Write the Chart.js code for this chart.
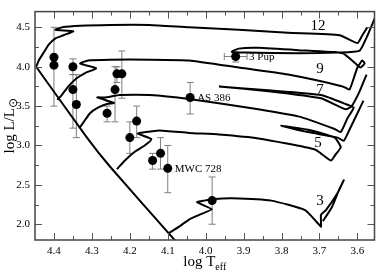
<!DOCTYPE html>
<html>
<head>
<meta charset="utf-8">
<script src="https://cdn.jsdelivr.net/npm/chart.js@4.4.0/dist/chart.umd.min.js"></script>
<style>
  html, body { margin: 0; padding: 0; background: #fff; }
  #wrap { width: 379px; height: 273px; }
</style>
</head>
<body>
<div id="wrap"><canvas id="hr"></canvas></div>
<script>
// evolutionary tracks as [log Teff, log L/Lsun]
var zams = [[4.447,4.00],[4.313,3.10],[4.252,2.73],[4.080,1.79]];
var track12 = [[4.447,4.00],[4.440,4.08],[4.427,4.18],[4.414,4.28],[4.396,4.36],[4.375,4.40],[4.349,4.45],
  [4.396,4.47],[4.378,4.50],[4.331,4.52],[4.252,4.53],[4.148,4.53],[4.044,4.50],[3.913,4.47],[3.783,4.43],
  [3.647,4.40],[3.600,4.30],[3.587,4.40],[3.574,4.50]];
var track9 = [[4.391,3.58],[4.378,3.65],[4.362,3.75],[4.341,3.85],[4.318,3.92],[4.289,3.98],[4.331,4.04],
  [4.310,4.08],[4.252,4.09],[4.148,4.09],[4.044,4.08],[3.913,3.99],[3.783,3.90],[3.639,3.75],[3.621,3.71],
  [3.610,3.85],[3.600,3.99],[3.587,4.08],[3.581,4.04],[3.592,3.99],[3.605,4.04],[3.639,4.17],[3.756,4.21],
  [3.861,4.24],[3.913,4.23],[3.931,4.19],[3.895,4.18],[3.756,4.17],[3.652,4.18],[3.595,4.20],[3.574,4.39],
  [3.553,4.63]];
var track7 = [[4.333,3.22],[4.320,3.31],[4.305,3.41],[4.284,3.48],[4.258,3.53],[4.242,3.54],[4.286,3.61],
  [4.266,3.61],[4.226,3.64],[4.148,3.64],[4.044,3.59],[3.887,3.48],[3.756,3.37],[3.660,3.21],[3.644,3.17],
  [3.626,3.35],[3.610,3.48],[3.628,3.52],[3.696,3.64],[3.835,3.70],[3.965,3.75],[3.835,3.69],[3.696,3.60],
  [3.631,3.46],[3.615,3.50],[3.594,3.69],[3.576,3.90]];
var track5 = [[4.234,2.70],[4.213,2.81],[4.187,2.92],[4.161,3.00],[4.143,3.08],[4.179,3.15],[4.158,3.17],
  [4.122,3.19],[4.044,3.16],[3.965,3.14],[3.861,3.09],[3.712,2.95],[3.670,2.81],[3.657,2.89],[3.644,2.98],
  [3.660,3.10],[3.730,3.20],[3.801,3.25],[3.730,3.17],[3.652,3.10],[3.636,3.06],[3.621,3.20],[3.600,3.41],
  [3.584,3.57]];
var track3 = [[4.096,1.89],[4.070,1.97],[4.044,2.06],[4.017,2.12],[3.984,2.19],[4.023,2.28],[4.004,2.30],
  [3.978,2.32],[3.931,2.33],[3.827,2.30],[3.738,2.18],[3.704,2.01],[3.696,1.97],[3.696,2.12],[3.683,2.18],
  [3.652,2.40],[3.636,2.56],[3.649,2.43],[3.667,2.22],[3.691,2.04]];

// track mass labels
var trackNames = ['12', '9', '7', '5', '3'];
var trackLabelT = [3.704, 3.699, 3.699, 3.704, 3.699];
var trackLabelL = [4.52, 3.97, 3.71, 3.03, 2.30];

// observed stars
var starT  = [4.400, 4.400, 4.350, 4.350, 4.341, 4.260, 4.239, 4.234, 4.221, 4.182, 4.200, 4.140, 4.119, 4.100, 4.041, 3.983, 3.921];
var starL  = [4.12, 4.02, 4.00, 3.71, 3.52, 3.41, 3.71, 3.91, 3.91, 3.31, 3.10, 2.81, 2.90, 2.71, 3.61, 2.30, 4.13];
var starLo = [4.12, 3.50, 3.90, 3.22, 3.10, 3.30, 3.30, 3.80, 3.60, 3.10, 2.90, 2.70, 2.70, 2.40, 3.40, 2.00, 4.06];
var starHi = [4.12, 4.50, 4.10, 3.90, 3.90, 3.50, 4.00, 4.00, 4.20, 3.50, 3.30, 2.90, 3.10, 3.00, 3.80, 2.60, 4.19];
var starTerr = [0, 0, 0, 0, 0, 0, 0, 0, 0, 0, 0, 0, 0, 0, 0, 0, 0.03];
var starNames = ['', '', '', '', '', '', '', '', '', '', '', '', '', 'MWC 728', 'AS 386', '', '3 Pup'];

var xTicks = [4.4, 4.3, 4.2, 4.1, 4.0, 3.9, 3.8, 3.7, 3.6];
var xMinor = [4.35, 4.25, 4.15, 4.05, 3.95, 3.85, 3.75, 3.65];
var yTicks = [2.0, 2.5, 3.0, 3.5, 4.0, 4.5];
var yMinor = [2.25, 2.75, 3.25, 3.75, 4.25];

var SERIF = '"Liberation Serif", "DejaVu Serif", serif';

function pts(arr) {
  return arr.map(function (p) { return { x: p[0], y: p[1] }; });
}

function lineSet(arr) {
  return {
    data: pts(arr),
    showLine: true,
    borderColor: '#000',
    borderWidth: 2,
    pointRadius: 0,
    tension: 0.15,
    fill: false
  };
}

var starPoints = starT.map(function (t, i) { return { x: t, y: starL[i] }; });

// gray error bars under everything
var errorBars = {
  id: 'errorBars',
  beforeDatasetsDraw: function (chart) {
    var c = chart.ctx, sx = chart.scales.x, sy = chart.scales.y;
    c.save();
    c.strokeStyle = '#7f7f7f';
    c.lineWidth = 1;
    for (var i = 0; i < starT.length; i++) {
      var px = sx.getPixelForValue(starT[i]);
      var py = sy.getPixelForValue(starL[i]);
      c.beginPath();
      if (starHi[i] > starLo[i]) {
        var y1 = sy.getPixelForValue(starHi[i]), y2 = sy.getPixelForValue(starLo[i]);
        c.moveTo(px, y1); c.lineTo(px, y2);
        c.moveTo(px - 3.5, y1); c.lineTo(px + 3.5, y1);
        c.moveTo(px - 3.5, y2); c.lineTo(px + 3.5, y2);
      }
      if (starTerr[i] > 0) {
        var x1 = sx.getPixelForValue(starT[i] + starTerr[i]), x2 = sx.getPixelForValue(starT[i] - starTerr[i]);
        c.moveTo(x1, py); c.lineTo(x2, py);
        c.moveTo(x1, py - 3.5); c.lineTo(x1, py + 3.5);
        c.moveTo(x2, py - 3.5); c.lineTo(x2, py + 3.5);
      }
      c.stroke();
    }
    c.restore();
  }
};

// text labels, frame with inward ticks, axis titles
var decorations = {
  id: 'decorations',
  afterDraw: function (chart) {
    var c = chart.ctx, sx = chart.scales.x, sy = chart.scales.y, a = chart.chartArea;
    c.save();
    c.fillStyle = '#000';
    c.textBaseline = 'middle';

    c.font = '15px ' + SERIF;
    c.textAlign = 'center';
    trackNames.forEach(function (n, i) {
      c.fillText(n, sx.getPixelForValue(trackLabelT[i]), sy.getPixelForValue(trackLabelL[i]));
    });

    c.font = '11px ' + SERIF;
    c.textAlign = 'left';
    starNames.forEach(function (n, i) {
      if (!n) return;
      var px = sx.getPixelForValue(starT[i]), py = sy.getPixelForValue(starL[i]);
      if (starTerr[i] > 0) px = sx.getPixelForValue(starT[i] - starTerr[i]) + 2;
      else px += 7;
      c.fillText(n, px, py + 1);
    });

    // ticks
    c.strokeStyle = '#555';
    c.lineWidth = 1;
    c.beginPath();
    function xt(v, len) {
      var p = Math.round(sx.getPixelForValue(v)) + 0.5;
      c.moveTo(p, a.bottom); c.lineTo(p, a.bottom - len);
      c.moveTo(p, a.top); c.lineTo(p, a.top + len);
    }
    function yt(v, len) {
      var p = Math.round(sy.getPixelForValue(v)) + 0.5;
      c.moveTo(a.left, p); c.lineTo(a.left + len, p);
      c.moveTo(a.right, p); c.lineTo(a.right - len, p);
    }
    xTicks.forEach(function (v) { xt(v, 7); });
    xMinor.forEach(function (v) { xt(v, 4); });
    yTicks.forEach(function (v) { yt(v, 7); });
    yMinor.forEach(function (v) { yt(v, 4); });
    c.stroke();

    c.strokeStyle = '#444';
    c.lineWidth = 1.5;
    c.strokeRect(a.left, a.top, a.right - a.left, a.bottom - a.top);

    // x title: log T_eff
    c.textAlign = 'left';
    c.textBaseline = 'alphabetic';
    c.font = '15px ' + SERIF;
    var m1 = 'log T', w1 = c.measureText(m1).width;
    c.font = '10px ' + SERIF;
    var w2 = c.measureText('eff').width;
    var cx = (a.left + a.right) / 2 - (w1 + w2) / 2;
    c.font = '15px ' + SERIF;
    c.fillText(m1, cx, 266);
    c.font = '10px ' + SERIF;
    c.fillText('eff', cx + w1, 270);

    // y title: log L/L_sun
    c.translate(14, (a.top + a.bottom) / 2);
    c.rotate(-Math.PI / 2);
    c.font = '15px ' + SERIF;
    var m2 = 'log L/L', w3 = c.measureText(m2).width;
    c.font = '12px "DejaVu Sans", sans-serif';
    var w4 = c.measureText('\u2299').width;
    var cy = -(w3 + w4) / 2;
    c.font = '15px ' + SERIF;
    c.fillText(m2, cy, 0);
    c.font = '12px "DejaVu Sans", sans-serif';
    c.fillText('\u2299', cy + w3, 3);
    c.restore();
  }
};

new Chart(document.getElementById('hr'), {
  type: 'scatter',
  data: {
    datasets: [
      lineSet(zams), lineSet(track12), lineSet(track9), lineSet(track7), lineSet(track5), lineSet(track3),
      {
        data: starPoints,
        pointRadius: 4.5,
        pointHoverRadius: 4.5,
        pointBackgroundColor: '#000',
        pointBorderColor: '#000',
        borderWidth: 0
      }
    ]
  },
  options: {
    responsive: true,
    maintainAspectRatio: false,
    animation: false,
    devicePixelRatio: 1,
    layout: { padding: { top: 1, right: 3, left: 0, bottom: 0 } },
    plugins: { legend: { display: false }, tooltip: { enabled: false } },
    scales: {
      x: {
        type: 'linear',
        reverse: true,
        min: 3.555,
        max: 4.45,
        afterFit: function (s) { s.height = 33; },
        afterBuildTicks: function (s) { s.ticks = xTicks.map(function (v) { return { value: v }; }); },
        grid: { display: false, drawTicks: false },
        border: { display: false },
        ticks: {
          padding: 5,
          color: '#000',
          font: { family: SERIF, size: 11 },
          callback: function (v) { return Number(v).toFixed(1); }
        }
      },
      y: {
        type: 'linear',
        min: 1.8,
        max: 4.7,
        afterFit: function (s) { s.width = 35; },
        afterBuildTicks: function (s) { s.ticks = yTicks.map(function (v) { return { value: v }; }); },
        grid: { display: false, drawTicks: false },
        border: { display: false },
        ticks: {
          padding: 5,
          color: '#000',
          font: { family: SERIF, size: 11 },
          callback: function (v) { return Number(v).toFixed(1); }
        }
      }
    }
  },
  plugins: [errorBars, decorations]
});
</script>
</body>
</html>
